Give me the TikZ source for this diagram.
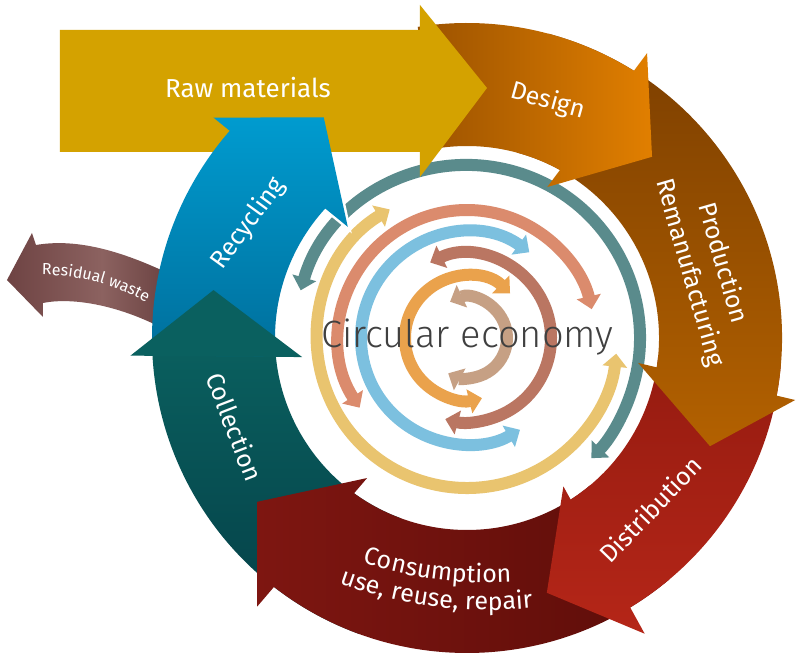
\documentclass[tikz,border=0pt]{standalone}
\usepackage{fontspec}
\setmainfont{Fira Sans}
\IfFontExistsTF{Fira Sans Light}{\newfontfamily\lightfont{Fira Sans Light}}{%
  \IfFontExistsTF{FiraSans-Light.otf}{\newfontfamily\lightfont{FiraSans-Light.otf}}{\newfontfamily\lightfont{Fira Sans}}}
\usetikzlibrary{arrows.meta,decorations.text}
\definecolor{cTeal}{HTML}{5A8B8C}
\definecolor{cYel}{HTML}{E9C46F}
\definecolor{cSal}{HTML}{DB8B6D}
\definecolor{cLb}{HTML}{7CC0DF}
\definecolor{cBr}{HTML}{BA7662}
\definecolor{cOr}{HTML}{EAA24C}
\definecolor{cTan}{HTML}{C6A084}
\definecolor{rawC}{HTML}{D4A200}
\definecolor{desL}{HTML}{9B5200}
\definecolor{desR}{HTML}{E17F00}
\definecolor{proT}{HTML}{7B3E00}
\definecolor{proB}{HTML}{B36100}
\definecolor{disT}{HTML}{951B10}
\definecolor{disB}{HTML}{B52618}
\definecolor{conL}{HTML}{7E1611}
\definecolor{conR}{HTML}{5D0D09}
\definecolor{colT}{HTML}{0A605F}
\definecolor{colB}{HTML}{043F47}
\definecolor{recT}{HTML}{009BCF}
\definecolor{recB}{HTML}{006F9C}
\definecolor{resL}{HTML}{6E4343}
\definecolor{resM}{HTML}{8C6260}
\definecolor{resR}{HTML}{5C3434}
\definecolor{ceText}{HTML}{404040}
\begin{document}
\begin{tikzpicture}[x=1pt,y=1pt,
  ring/.style={line width=12pt,{Triangle[width=24pt,length=13pt]}-{Triangle[width=24pt,length=13pt]}},
  lbl/.style={text=white,font=\fontsize{25}{30}\selectfont,inner sep=0pt,text height=18pt,text depth=5pt},
  curvtext/.style={decorate,decoration={text along path,text align=center,text color=white,text={#1}}}]
\useasboundingbox (-467,-320) rectangle (329,338);
\fill[white] (-467,-320) rectangle (329,338);

% inner arcs
\draw[ring,cTeal] (164:173) arc[start angle=164,end angle=-44,radius=173];
\draw[ring,cYel] (121:150) arc[start angle=121,end angle=354,radius=150];
\draw[ring,cSal] (213:128) arc[start angle=213,end angle=13,radius=128];
\draw[ring,cLb] (54:106) arc[start angle=54,end angle=300,radius=106];
\draw[ring,cBr] (116:84) arc[start angle=116,end angle=-105,radius=84];
\draw[ring,cOr] (46:62) arc[start angle=46,end angle=284,radius=62];
\draw[ring,cTan] (115:40) arc[start angle=115,end angle=-118,radius=40];

% residual waste
\shade[left color=resL,right color=resR,middle color=resM]
  (-270,50) .. controls (-340,88) and (-390,100) .. (-431,93) -- (-435,105) -- (-460,58)
  -- (-424,21) -- (-424,35) .. controls (-390,42) and (-330,30) .. (-275,-8) -- cycle;

% collection body
\shade[top color=colT,bottom color=colB]
  (250:315) arc[start angle=250,end angle=180,radius=315] -- (180:192)
  arc[start angle=180,end angle=250,radius=192] -- cycle;

% consumption
\shade[left color=conL,right color=conR]
  (310:315) arc[start angle=310,end angle=230,radius=315] -- (230:192)
  arc[start angle=230,end angle=310,radius=192] -- cycle
  (232:341) -- (218:266) -- (234.5:172) -- cycle;

% distribution
\shade[top color=disT,bottom color=disB]
  (-5:315) arc[start angle=-5,end angle=-60,radius=315] -- (-60:192)
  arc[start angle=-60,end angle=-5,radius=192] -- cycle
  (-59:345) -- (-72.6:267) -- (-57:177) -- cycle;

% production
\shade[top color=proT,bottom color=proB]
  (75:315) arc[start angle=75,end angle=-12,radius=315] -- (-12:192)
  arc[start angle=-12,end angle=75,radius=192] -- cycle
  (-10.7:334) -- (-24:266) -- (-8.3:173) -- cycle;

% design
\shade[left color=desL,right color=desR]
  (99:315) arc[start angle=99,end angle=56,radius=315] -- (56:192)
  arc[start angle=56,end angle=99,radius=192] -- cycle
  (57.7:337) -- (44.4:259) -- (62:171) -- cycle;

% raw materials
\fill[rawC] (-407,186) -- (-407,308) -- (-47,308) -- (-47,333) -- (20,250) -- (-47,161) -- (-47,186) -- cycle;

% recycling
\begin{scope}
  \clip (0,0) circle (188);
  \draw[white,line width=5pt] (139:336) -- (123:263) -- (137:163) -- cycle;
\end{scope}
\shade[top color=recT,bottom color=recB]
  (183.2:315) arc[start angle=183.2,end angle=138.5,radius=315] -- (136:192)
  arc[start angle=136,end angle=185.5,radius=192] -- cycle
  (139:336) -- (123:263) -- (137:163) -- cycle;

% collection head
\fill[colT] (183:337) -- (169.3:258) -- (186.6:166) -- cycle;

% labels
\node[lbl,font=\fontsize{26}{30}\selectfont] (raw) at (-219,246.5) {Raw materials};
\node[lbl,rotate=-15.5] (des) at (80.7,236.3) {Design};
\node[lbl,rotate=-74,align=center,text height=,text depth=,font=\fontsize{25}{34}\selectfont] (pro) at (239,70) {Production\\Remanufacturing};
\node[lbl,rotate=46] (dis) at (185.5,-173.5) {Distribution};
\node[lbl,rotate=-69] (col) at (-235,-90) {Collection};
\node[lbl,rotate=54] (rec) at (-218,114) {Recycling};
\path[shift={(23,168)},curvtext={|\fontsize{25}{30}\selectfont|Consumption}]
  (237.5:413) arc[start angle=237.5,end angle=287.5,radius=413];
\path[shift={(23,168)},curvtext={|\fontsize{25}{30}\selectfont|use, reuse, repair}]
  (237.8:440) arc[start angle=237.8,end angle=287.8,radius=440];
\path[shift={(-424,-144)},curvtext={|\fontsize{16}{20}\selectfont|Residual waste}]
  (105.2:207) arc[start angle=105.2,end angle=45.2,radius=207];
\node[anchor=base,inner sep=0pt,text=ceText,font=\lightfont\fontsize{38}{44}\selectfont] (ce) at (0.5,-10) {Circular economy};
\end{tikzpicture}
\end{document}
